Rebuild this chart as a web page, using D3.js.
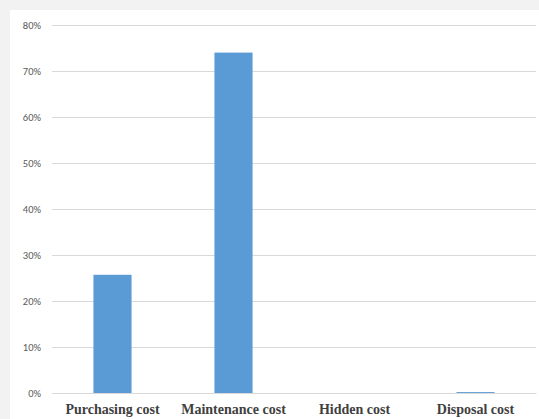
<!DOCTYPE html>
<html><head><meta charset="utf-8">
<script src="https://cdn.jsdelivr.net/npm/d3@7"></script>
<style>html,body{margin:0;padding:0;background:#f2f2f2;}svg{display:block;}</style>
</head><body>
<script>
const categories = ["Purchasing cost", "Maintenance cost", "Hidden cost", "Disposal cost"];
const values = [0.257, 0.740, 0.0, 0.002];
const yTicks = [0, 0.1, 0.2, 0.3, 0.4, 0.5, 0.6, 0.7, 0.8];

(function () {
const W = 539, H = 419;
const svg = d3.select("body").append("svg").attr("width", W).attr("height", H);
svg.append("rect").attr("x", 0).attr("y", 0).attr("width", W).attr("height", H).attr("fill", "#f2f2f2");
svg.append("rect").attr("x", 10).attr("y", 10).attr("width", W - 10).attr("height", H - 10).attr("fill", "#ffffff");

const mL = 52, mR = 536, mT = 25, mB = 393;
const x = d3.scaleBand().domain(categories).range([mL, mR]).paddingInner(0.685).paddingOuter(0.3425);
const y = d3.scaleLinear().domain([0, 0.8]).range([mB, mT]);

const yAxis = d3.axisLeft(y).tickValues(yTicks).tickFormat(d3.format(".0%")).tickSize(-(mR - mL)).tickPadding(11);
const gy = svg.append("g").attr("transform", `translate(${mL},0)`).call(yAxis);
gy.select(".domain").remove();
gy.selectAll(".tick line").attr("stroke", "#d9d9d9").attr("stroke-width", 1);
gy.selectAll(".tick text").attr("fill", "#595959").style("font-family", "Calibri, Carlito, 'Open Sans', sans-serif").style("font-size", "10.5px");

svg.append("g").selectAll("rect").data(categories).join("rect")
  .attr("x", d => x(d))
  .attr("width", x.bandwidth())
  .attr("y", (d, i) => y(values[i]))
  .attr("height", (d, i) => y(0) - y(values[i]))
  .attr("fill", "#5b9bd5");

const xAxis = d3.axisBottom(x).tickSize(0).tickPadding(11);
const gx = svg.append("g").attr("transform", `translate(0,${mB})`).call(xAxis);
gx.select(".domain").attr("stroke", "#d9d9d9");
gx.selectAll(".tick text").attr("fill", "#404040").style("font-family", "'Liberation Serif', 'Times New Roman', serif").style("font-size", "14px").style("font-weight", "bold");
})();
</script>
</body></html>
